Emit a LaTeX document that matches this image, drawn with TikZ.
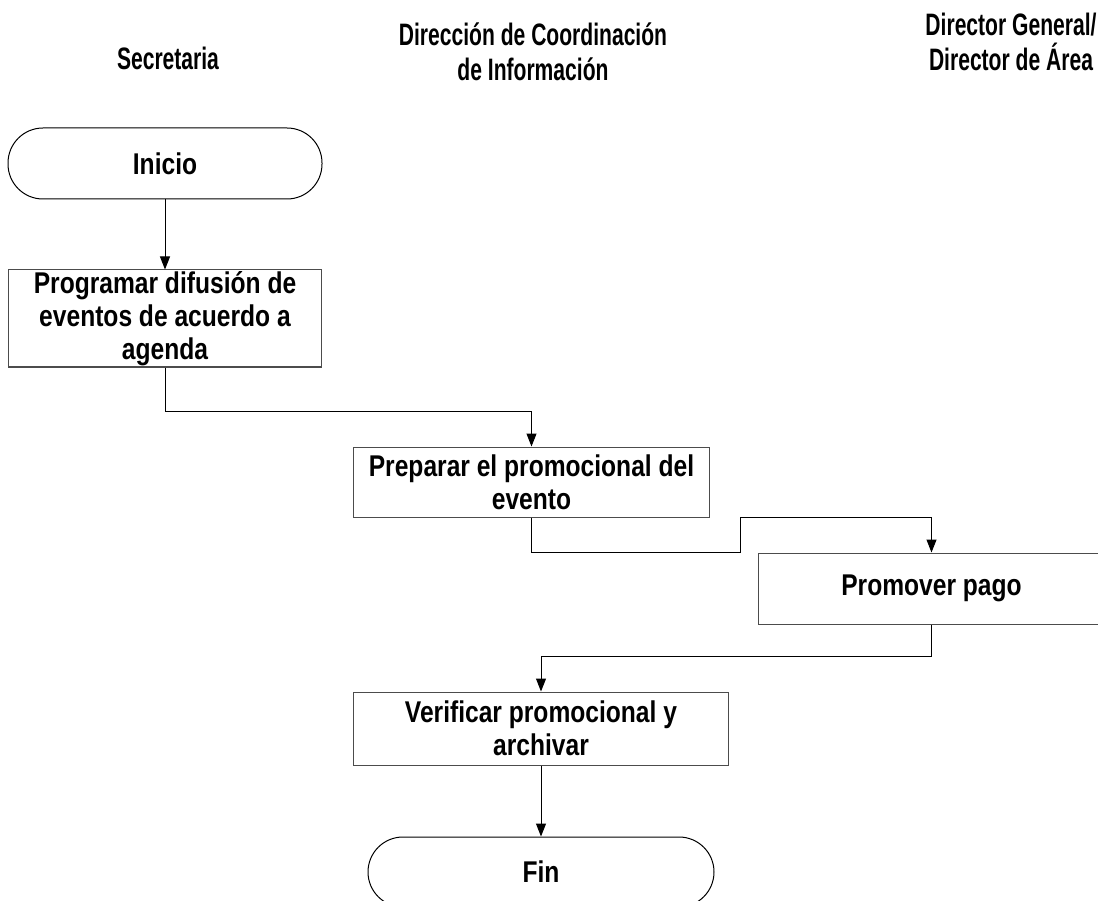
\documentclass[tikz,border=0pt]{standalone}
\usepackage{fontspec}
\setmainfont[FakeStretch=0.82]{Liberation Sans}
\newfontfamily\lanefont[FakeStretch=0.68]{Liberation Sans}
\usetikzlibrary{positioning,arrows.meta}

\tikzset{
	proc/.style={draw=black!70, line width=1pt, align=center, inner sep=0pt, font=\fontsize{30}{33}\selectfont\bfseries},
	term/.style={proc, draw=black, rounded corners=35pt, minimum width=314pt, minimum height=71pt},
	lane/.style={align=center, font=\lanefont\fontsize{31}{35}\selectfont\bfseries},
	flow/.style={draw, line width=1pt, -{Triangle[length=13pt,width=10pt]}}
}

\begin{document}
\begin{tikzpicture}[x=1pt, y=-1pt]
		\clip (0,0) rectangle (1098,901);
		\useasboundingbox (0,0) rectangle (1098,901);

		\node[lane] (lsec) at (168,58) {Secretaria};
		\node[lane] (ldci) at (533,52) {Dirección de Coordinación\\de Información};
		\node[lane] (ldir) at (1011,42) {Director General/\\Director de Área};

		\node[term] (inicio) at (165,163.5) {Inicio};
		\node[proc, minimum width=313pt, minimum height=97pt, below=70pt of inicio] (prog) {Programar difusión de\\eventos de acuerdo a\\agenda};
		\node[proc, minimum width=356pt, minimum height=70pt, below right=79pt and 31pt of prog] (prep) {Preparar el promocional del\\evento};
		\node[proc, minimum width=346pt, minimum height=71pt, below right=35pt and 48pt of prep] (prom) {Promover pago};
		\node[proc, minimum width=375pt, minimum height=73pt, below left=67pt and 29pt of prom] (verif) {Verificar promocional y\\archivar};
		\node[term, minimum width=346pt, minimum height=70pt, below=71pt of verif] (fin) {Fin};

		\draw[flow] (inicio) -- (prog);
		\draw[flow] (prog.south) -- ++(0,44) -| (prep.north);
		\draw[flow] (prep.south) -- ++(0,35) -| ++(209,-35) -| (prom.north);
		\draw[flow] (prom.south) -- ++(0,32) -| (verif.north);
		\draw[flow] (verif) -- (fin);

	\end{tikzpicture}
\end{document}
